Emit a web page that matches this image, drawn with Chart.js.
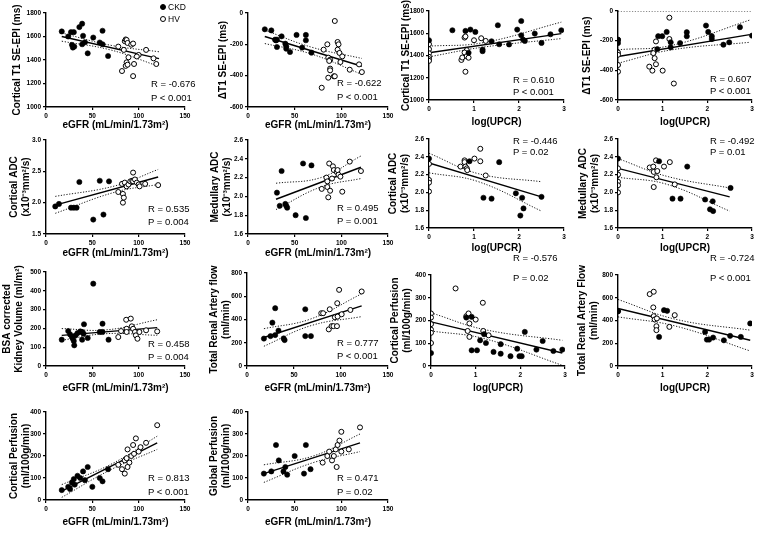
<!DOCTYPE html>
<html>
<head>
<meta charset="utf-8">
<script src="https://cdn.jsdelivr.net/npm/chart.js@4"></script>
<style>
body{margin:0;background:#fff;}
#fig{position:relative;width:760px;height:538px;overflow:hidden;font-family:"Liberation Sans",Arial,sans-serif;}
#fig canvas{position:absolute;}
.note{position:absolute;font-size:9.5px;line-height:12px;color:#000;white-space:nowrap;}
.key{position:absolute;font-size:8.5px;line-height:10px;color:#000;white-space:nowrap;}
.dot{position:absolute;width:4px;height:4px;border-radius:50%;border:1px solid #000;box-sizing:content-box;}
</style>
</head>
<body>
<div id="fig"></div>
<script>
// tick values
const egfrTicks=[0,50,100,150];
const upcrTicks=[0,1,2,3];
const t1Ticks=[1000,1200,1400,1600,1800];
const dT1Ticks=[-600,-400,-200,0];
const cAdcTicks=[1.5,2.0,2.5,3.0];
const mAdcTicks=[1.6,1.8,2.0,2.2,2.4,2.6];
const volTicks=[0,100,200,300,400,500];
const flowTicks=[0,200,400,600,800];
const perfTicks=[0,100,200,300,400];

// 1: eGFR vs cortical T1
const ckd1=[[17,1643],[24,1600],[27,1637],[30,1637],[29,1506],[30.5,1514],[28,1529],[36,1680],[39,1709],[40,1606],[39,1534],[42,1551],[45,1457],[51,1591],[58,1549],[61,1649],[61,1534],[67,1434]];
const hv1=[[78,1514],[84,1486],[85,1560],[86,1575],[87,1570],[88,1545],[87,1380],[86,1350],[82,1306],[89,1423],[92,1530],[94,1540],[95,1366],[94,1263],[100,1443],[98,1430],[108,1486],[116,1414],[119,1366],[88,1360]];
const fit1=[[17,1600],[122,1412]];
const up1=[[17,1630],[70,1525],[122,1470]];
const lo1=[[17,1560],[70,1485],[122,1345]];

// 2: eGFR vs delta T1
const ckd2=[[18,-104],[25,-111],[29,-170],[31,-170],[31,-217],[36,-149],[40,-196],[41,-213],[41,-228],[45,-249],[52,-140],[62,-140],[62,-174],[58,-221],[68,-253],[30,-175]];
const hv2=[[93,-51],[85,-200],[96,-185],[97,-200],[96,-234],[98,-255],[101,-277],[81,-234],[86,-285],[88,-298],[87,-306],[88,-355],[88,-366],[92,-404],[93,-404],[86,-413],[79,-477],[109,-362],[119,-328],[122,-377],[99,-313]];
const fit2=[[18,-150],[122,-340]];
const up2=[[18,-110],[68,-218],[122,-290]];
const lo2=[[18,-195],[68,-262],[122,-392]];

// 3: log(UPCR) vs cortical T1
const ckd3=[[0,1537],[0.52,1627],[0.81,1621],[0.92,1633],[1.03,1612],[0.88,1424],[1.19,1454],[1.19,1439],[1.39,1528],[1.53,1672],[1.56,1501],[1.78,1499],[1.96,1633],[2.05,1710],[2.05,1582],[2.09,1543],[2.13,1531],[2.35,1597],[2.5,1513],[2.7,1591],[2.94,1627]];
const hv3=[[0,1502],[0,1457],[0,1420],[0,1388],[0,1367],[0,1352],[0.72,1360],[0.74,1382],[0.79,1561],[0.81,1571],[0.81,1254],[0.84,1448],[0.79,1427],[0.84,1394],[0.88,1380],[1.0,1537],[1.16,1555],[1.26,1531]];
const fit3=[[0,1424],[2.94,1597]];
const up3=[[0,1484],[1.2,1515],[2.94,1700]];
const lo3=[[0,1388],[1.2,1475],[2.94,1552]];

// 4: log(UPCR) vs delta T1
const ckd4=[[0,-216],[0,-195],[0.9,-170],[0.88,-257],[0.99,-170],[1.09,-141],[1.18,-211],[1.18,-245],[1.39,-216],[1.54,-143],[1.54,-170],[1.97,-98],[2.02,-141],[2.1,-189],[2.1,-170],[2.36,-227],[2.49,-211],[2.73,-109],[3.0,-166]];
const hv4=[[0,-193],[0,-280],[0,-295],[0,-364],[0,-409],[0.7,-375],[0.77,-402],[0.82,-318],[0.85,-359],[0.82,-261],[0.79,-284],[0.85,-205],[1.0,-402],[1.15,-45],[1.15,-189],[1.25,-489]];
const fit4=[[0,-307],[2.95,-159]];
const up4=[[0,-261],[1.2,-232],[2.95,-61]];
const lo4=[[0,-352],[1.2,-262],[2.95,-211]];
const zero4=[[0,0],[3,0]];

// 5: eGFR vs cortical ADC
const ckd5=[[10,1.94],[14,1.98],[36,2.33],[27,1.92],[30,1.92],[33,1.92],[51,1.73],[58,2.35],[62,1.81],[68,2.34]];
const hv5=[[78,2.17],[83,2.14],[83,2.0],[84,2.08],[82,2.30],[85,2.32],[87,2.26],[89,2.29],[91,2.34],[93,2.35],[94,2.48],[94,2.34],[96,2.37],[98,2.32],[100,2.29],[101,2.26],[107,2.30],[121,2.28]];
const fit5=[[10,1.96],[121,2.41]];
const up5=[[10,2.1],[75,2.27],[121,2.53]];
const lo5=[[10,1.83],[75,2.17],[121,2.29]];

// 6: eGFR vs medullary ADC
const ckd6=[[31,2.04],[34,1.90],[36,2.27],[40,1.92],[41,1.90],[42,1.88],[51,1.80],[59,2.35],[62,1.77],[68,2.33]];
const hv6=[[79,2.08],[84,2.2],[85,2.16],[85,2.10],[87,2.35],[86,1.99],[88,2.06],[91,2.32],[92,2.28],[95,2.26],[96,2.28],[97,2.23],[99,2.21],[101,2.05],[109,2.37],[121,2.27],[90,2.19]];
const fit6=[[30,1.97],[121,2.31]];
const up6=[[30,2.14],[78,2.2],[121,2.43]];
const lo6=[[30,1.86],[78,2.1],[121,2.19]];

// 7: log(UPCR) vs cortical ADC
const ckd7=[[0,2.38],[0.9,2.35],[1.21,1.94],[1.39,1.93],[1.56,2.34],[1.93,1.99],[2.07,1.94],[2.1,1.82],[2.03,1.74],[2.5,1.95]];
const hv7=[[0,2.32],[0,2.14],[0,2.11],[0,2.01],[0.7,2.29],[0.79,2.36],[0.79,2.34],[0.81,2.29],[0.84,2.27],[0.85,2.25],[1.01,2.38],[1.14,2.49],[1.14,2.35],[1.26,2.19]];
const fit7=[[0,2.33],[2.5,1.95]];
const up7=[[0,2.44],[1.1,2.21],[2.5,2.12]];
const lo7=[[0,2.22],[1.1,2.12],[2.5,1.79]];

// 8: log(UPCR) vs medullary ADC
const ckd8=[[0,2.38],[0.92,2.35],[1.55,2.29],[1.22,1.93],[1.4,1.93],[1.95,1.92],[2.06,1.81],[2.12,1.9],[2.13,1.79],[2.52,2.05]];
const hv8=[[0,2.27],[0,2.2],[0,2.12],[0,2.08],[0,2.0],[0.71,2.28],[0.79,2.29],[0.8,2.23],[0.85,2.36],[0.88,2.24],[0.86,2.17],[0.8,2.06],[1.03,2.29],[1.16,2.34],[1.27,2.09]];
const fit8=[[0,2.27],[2.5,1.95]];
const up8=[[0,2.38],[1.1,2.18],[2.5,2.05]];
const lo8=[[0,2.17],[1.1,2.09],[2.5,1.79]];

// 9: eGFR vs kidney volume
const ckd9=[[17,140],[24,186],[26,168],[28,154],[29,145],[30,133],[30.5,110],[32,163],[34,175],[37,184],[39,181],[40.5,172],[41,222],[39,140],[45,149],[51,438],[58,181],[61,225],[61,181],[67.5,140]];
const hv9=[[78,154],[81,186],[86.5,246],[87,198],[87,181],[91.5,252],[92.6,211],[94,198],[96,181],[97,163],[98.7,145],[100.8,181],[108,190],[120,184]];
const fit9=[[17,163],[120,204]];
const up9=[[17,199],[65,192],[120,246]];
const lo9=[[17,137],[65,172],[120,163]];

// 10: eGFR vs total renal artery flow
const ckd10=[[18,236],[25,257],[27,373],[30,266],[30,497],[33.5,304],[39,237],[40,223],[62,488],[62,257],[68,257]];
const hv10=[[79,454],[81,454],[87,315],[88,488],[90,343],[92,343],[93.5,419],[96,540],[96.4,425],[98,655],[100.7,445],[110,482],[122,641],[95.7,343]];
const fit10=[[18,245],[122,517]];
const up10=[[18,321],[68,405],[122,621]];
const lo10=[[18,170],[68,347],[122,425]];

// 11: log(UPCR) vs cortical perfusion
const ckd11=[[0,57],[0.79,213],[0.91,216],[0.91,69],[1.03,69],[1.1,113],[1.19,140],[1.23,101],[1.4,62],[1.56,96],[1.56,54],[1.78,43],[1.93,76],[1.98,43],[2.03,43],[2.1,150],[2.36,72],[2.5,110],[2.74,66],[2.94,72]];
const hv11=[[0,231],[0,213],[0,184],[0,160],[0,146],[0,101],[0.55,341],[0.79,219],[0.84,231],[0.86,187],[0.82,154],[0.86,128],[1.0,204],[1.16,278],[1.17,154],[1.29,135]];
const fit11=[[0,194],[2.94,57]];
const up11=[[0,234],[1.2,160],[2.94,113]];
const lo11=[[0,154],[1.2,120],[2.94,3]];

// 12: log(UPCR) vs total renal artery flow
const ckd12=[[0,480],[0.92,256],[1.03,491],[1.1,485],[1.95,300],[1.99,232],[2.04,232],[2.13,250],[2.37,226],[2.51,265],[2.75,256],[2.96,374]];
const hv12=[[0,485],[0.71,632],[0.8,653],[0.79,515],[0.8,438],[0.82,409],[0.87,418],[0.86,350],[0.86,315],[1.27,447],[1.15,344]];
const fit12=[[0,506],[2.96,226]];
const up12=[[0,585],[1.3,410],[2.96,315]];
const lo12=[[0,432],[1.3,350],[2.96,132]];

// 13: eGFR vs cortical perfusion
const ckd13=[[17,45],[24,60],[26,50],[28,80],[30,95],[31,70],[34,110],[37,100],[40,130],[42,90],[45,150],[50,60],[58,100],[61,85],[67,140]];
const hv13=[[78,160],[82,140],[85,180],[87,190],[88,230],[90,170],[92,200],[94,250],[95,210],[97,280],[100,220],[102,240],[108,260],[120,340],[88,150],[85,120]];
const fit13=[[17,40],[120,260]];
const up13=[[17,70],[70,162],[120,290]];
const lo13=[[17,12],[70,138],[120,230]];

// 14: eGFR vs global perfusion
const ckd14=[[17,120],[25,130],[30,250],[33,180],[38,130],[40,150],[42,115],[50,200],[60,120],[62,250],[67,140]];
const hv14=[[80,170],[85,200],[87,220],[90,180],[92,200],[94,230],[96,250],[98,270],[100,310],[100,220],[108,230],[120,330],[95,150]];
const fit14=[[17,120],[120,260]];
const up14=[[17,160],[70,200],[120,300]];
const lo14=[[17,80],[70,170],[120,220]];

const stats=[
  ['R = -0.676','P < 0.001'],['R = -0.622','P < 0.001'],['R = 0.610','P < 0.001'],['R = 0.607','P < 0.001'],
  ['R = 0.535','P = 0.004'],['R = 0.495','P = 0.001'],['R = -0.446','P = 0.02'],['R = -0.492','P = 0.01'],
  ['R = 0.458','P = 0.004'],['R = 0.777','P < 0.001'],['R = -0.576','P = 0.02'],['R = -0.724','P < 0.001'],
  ['R = 0.813','P < 0.001'],['R = 0.471','P = 0.02']
];

const eGFR='eGFR (mL/min/1.73m²)';
const UPCR='log(UPCR)';
const ADCu='(x10⁻³mm²/s)';

// box = plot area [left, top, right, bottom]; cl = canvas left; tx = y-title x; ty = x-title y; sp = [x, yR, yP]
const panels=[
  {d:[ckd1,hv1,fit1,up1,lo1],xt:egfrTicks,yt:t1Ticks,xTitle:eGFR,yTitle:'Cortical T1 SE-EPI (ms)',box:[46,13,185,107],cl:0,tx:17,ty:125,sp:[151,84,98]},
  {d:[ckd2,hv2,fit2,up2,lo2],xt:egfrTicks,yt:dT1Ticks,xTitle:eGFR,yTitle:'ΔT1 SE-EPI (ms)',box:[248,13,388,107],cl:195,tx:223,ty:125,sp:[337,83,97]},
  {d:[ckd3,hv3,fit3,up3,lo3],xt:upcrTicks,yt:t1Ticks,xTitle:UPCR,yTitle:'Cortical T1 SE-EPI (ms)',box:[429,11,564,100],cl:385,tx:406,ty:122,sp:[513,80,92]},
  {d:[ckd4,hv4,fit4,up4,lo4],xt:upcrTicks,yt:dT1Ticks,xTitle:UPCR,yTitle:'ΔT1 SE-EPI (ms)',box:[618,11,752,100],cl:572,tx:587,ty:122,sp:[710,79,91],zero:zero4},
  {d:[ckd5,hv5,fit5,up5,lo5],xt:egfrTicks,yt:cAdcTicks,xTitle:eGFR,yTitle:['Cortical ADC',ADCu],box:[46,140,185,234],cl:0,tx:14,ty:253,sp:[148,209,222]},
  {d:[ckd6,hv6,fit6,up6,lo6],xt:egfrTicks,yt:mAdcTicks,xTitle:eGFR,yTitle:['Medullary ADC',ADCu],box:[248,140,388,234],cl:195,tx:215,ty:253,sp:[337,208,221]},
  {d:[ckd7,hv7,fit7,up7,lo7],xt:upcrTicks,yt:mAdcTicks,xTitle:UPCR,yTitle:['Cortical ADC',ADCu],box:[429,139,564,228],cl:385,tx:393,ty:248,sp:[513,141,152]},
  {d:[ckd8,hv8,fit8,up8,lo8],xt:upcrTicks,yt:mAdcTicks,xTitle:UPCR,yTitle:['Medullary ADC',ADCu],box:[618,139,752,228],cl:572,tx:583,ty:248,sp:[710,141,152]},
  {d:[ckd9,hv9,fit9,up9,lo9],xt:egfrTicks,yt:volTicks,xTitle:eGFR,yTitle:['BSA corrected','Kidney Volume (ml/m²)'],box:[46,272,185,366],cl:0,tx:7,ty:388,sp:[148,344,357]},
  {d:[ckd10,hv10,fit10,up10,lo10],xt:egfrTicks,yt:flowTicks,xTitle:eGFR,yTitle:['Total Renal Artery flow','(ml/min)'],box:[247,273,388,366],cl:195,tx:214,ty:388,sp:[337,343,356]},
  {d:[ckd11,hv11,fit11,up11,lo11],xt:upcrTicks,yt:perfTicks,xTitle:UPCR,yTitle:['Cortical Perfusion','(ml/100g/min)'],box:[431,275,565,366],cl:385,tx:395,ty:388,sp:[513,258,278]},
  {d:[ckd12,hv12,fit12,up12,lo12],xt:upcrTicks,yt:flowTicks,xTitle:UPCR,yTitle:['Total Renal Artery Flow','(ml/min)'],box:[618,275,752,366],cl:572,tx:582,ty:388,sp:[710,258,278]},
  {d:[ckd13,hv13,fit13,up13,lo13],xt:egfrTicks,yt:perfTicks,xTitle:eGFR,yTitle:['Cortical Perfusion','(ml/100g/min)'],box:[46,412,185,500],cl:0,tx:14,ty:522,sp:[148,478,492]},
  {d:[ckd14,hv14,fit14,up14,lo14],xt:egfrTicks,yt:perfTicks,xTitle:eGFR,yTitle:['Global Perfusion','(ml/100g/min)'],box:[248,412,388,500],cl:195,tx:214,ty:522,sp:[337,478,492]}
];

Chart.defaults.font.family='"Liberation Sans", Arial, sans-serif';
Chart.defaults.color='#000';

const fig=document.getElementById('fig');
const pts=a=>a.map(([x,y])=>({x:x,y:y}));
const dash=[1.2,1.6];

function axis(ticks,title,isX,fitSize,titlePad){
  const dec=ticks.some(v=>!Number.isInteger(v))?1:0;
  return {
    type:'linear',min:ticks[0],max:ticks[ticks.length-1],
    afterBuildTicks:s=>{s.ticks=ticks.map(v=>({value:v}));},
    afterFit:s=>{ if(isX) s.height=fitSize; else s.width=fitSize; },
    ticks:{font:{size:6.5,weight:'bold'},color:'#000',padding:2,maxRotation:0,autoSkip:false,callback:v=>Number(v).toFixed(dec)},
    grid:{display:true,drawOnChartArea:false,drawTicks:true,tickLength:3,color:'#000',lineWidth:1.2},
    border:{display:true,color:'#000',width:1.4},
    title:{display:true,text:title,color:'#000',font:{size:10,weight:'bold',lineHeight:1.2},padding:isX?{top:0,bottom:titlePad}:{top:titlePad,bottom:0}}
  };
}

function addNote(text,x,cy){
  const n=document.createElement('div');
  n.className='note';n.textContent=text;
  n.style.left=x+'px';n.style.top=(cy-6)+'px';
  fig.appendChild(n);
}

panels.forEach((p,i)=>{
  const [l,t,r,b]=p.box;
  const TP=12,RP=12;
  const left=p.cl, top=t-TP;
  const aw=l-left;
  const bottom=p.ty+8;
  const ah=bottom-b;
  const cv=document.createElement('canvas');
  cv.width=aw+(r-l)+RP; cv.height=bottom-top;
  cv.style.left=left+'px'; cv.style.top=top+'px';
  fig.appendChild(cv);

  const [ckd,hv,fit,up,lo]=p.d;
  const ds=[
    {label:'CKD',data:pts(ckd),pointRadius:2.6,pointBackgroundColor:'#000',pointBorderColor:'#000',pointBorderWidth:0.6,order:0},
    {label:'HV',data:pts(hv),pointRadius:2.5,pointBackgroundColor:'#fff',pointBorderColor:'#000',pointBorderWidth:1,order:0},
    {data:pts(fit),showLine:true,pointRadius:0,borderColor:'#000',borderWidth:1.4,order:1},
    {data:pts(up),showLine:true,pointRadius:0,borderColor:'#000',borderWidth:0.9,borderDash:dash,tension:0.4,order:1},
    {data:pts(lo),showLine:true,pointRadius:0,borderColor:'#000',borderWidth:0.9,borderDash:dash,tension:0.4,order:1}
  ];
  if(p.zero) ds.push({data:pts(p.zero),showLine:true,pointRadius:0,borderColor:'#000',borderWidth:0.9,borderDash:dash,order:1});

  new Chart(cv,{
    type:'scatter',
    data:{datasets:ds},
    options:{
      responsive:false,animation:false,devicePixelRatio:1,
      layout:{padding:{left:0,top:TP,right:RP,bottom:0}},
      plugins:{legend:{display:false},tooltip:{enabled:false}},
      scales:{
        x:axis(p.xt,p.xTitle,true,ah,2),
        y:axis(p.yt,p.yTitle,false,aw,p.tx-left-6)
      }
    }
  });

  addNote(stats[i][0],p.sp[0],p.sp[1]);
  addNote(stats[i][1],p.sp[0],p.sp[2]);
});

// legend (top right of first panel)
[['CKD',7,'#000'],['HV',19,'#fff']].forEach(([name,cy,fill])=>{
  const d=document.createElement('div');
  d.className='dot';d.style.background=fill;
  d.style.left='160px';d.style.top=(cy-3)+'px';
  fig.appendChild(d);
  const k=document.createElement('div');
  k.className='key';k.textContent=name;
  k.style.left='168px';k.style.top=(cy-5)+'px';
  fig.appendChild(k);
});
</script>
</body>
</html>
